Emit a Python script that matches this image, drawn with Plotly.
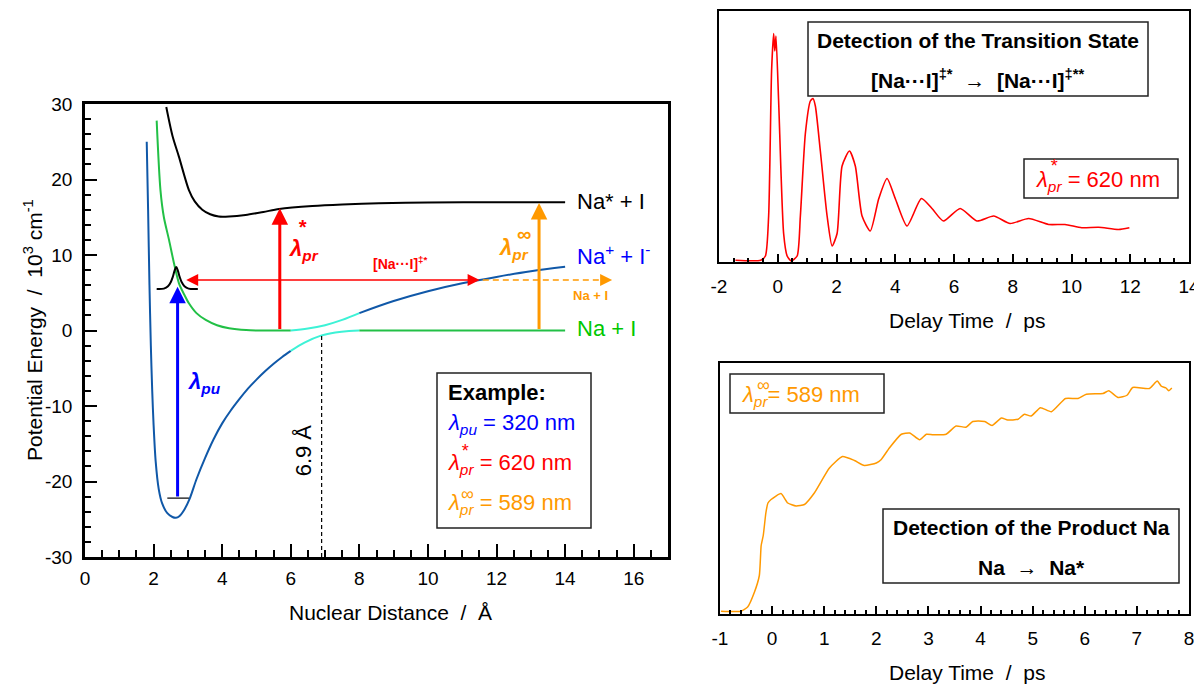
import plotly.graph_objects as go

W, H = 1202, 686
OFF = 8  # page body margin of the browser
FONT = "Liberation Sans, Arial, Helvetica, sans-serif"
NB = "\u00a0"

# ---------------- Left panel: potential energy curves (10^3 cm^-1 vs Angstrom) ----------------
ionic_x = [1.80, 1.84, 1.88, 1.92, 1.96, 2.00, 2.06, 2.15, 2.25, 2.40, 2.55, 2.65, 2.75, 2.90,
           3.05, 3.25, 3.50, 3.75, 4.00, 4.25, 4.50, 4.75, 5.00, 5.25, 5.50, 5.75, 6.00]
ionic_y = [25.0, 16.0, 6.0, -2.0, -8.0, -12.5, -17.3, -21.0, -22.9, -24.2, -24.7, -24.8, -24.6, -23.7,
           -22.3, -19.7, -16.9, -14.4, -12.3, -10.6, -9.1, -7.7, -6.5, -5.4, -4.4, -3.5, -2.7]
cross_low_x = [6.0, 6.4, 6.9, 7.3, 7.7, 8.0]
cross_low_y = [-2.7, -1.6, -0.65, -0.25, -0.05, 0.0]
cov_x = [2.09, 2.20, 2.30, 2.45, 2.60, 2.74, 2.90, 3.03, 3.25, 3.52, 3.85, 4.20, 4.70, 5.20, 6.00]
cov_y = [27.8, 18.6, 15.0, 12.0, 8.8, 6.25, 4.7, 3.6, 2.3, 1.4, 0.7, 0.3, 0.05, 0.0, 0.0]
cross_up_x = [6.0, 6.5, 7.0, 7.5, 8.0]
cross_up_y = [0.0, 0.25, 0.7, 1.4, 2.3]
ionic_out_x = [8.0, 9.0, 10.0, 11.0, 12.0, 13.0, 14.0]
ionic_out_y = [2.3, 3.9, 5.2, 6.25, 7.1, 7.85, 8.45]
cov_out_x = [8.0, 14.0]
cov_out_y = [0.0, 0.0]
exc_x = [2.37, 2.55, 2.74, 3.03, 3.20, 3.42, 3.65, 3.90, 4.20, 4.68, 5.20, 5.66, 6.63, 7.50, 8.57, 10.0, 12.0, 14.0]
exc_y = [29.6, 25.8, 23.0, 18.6, 17.1, 16.0, 15.4, 15.1, 15.1, 15.3, 15.7, 16.1, 16.5, 16.7, 16.85, 16.95, 17.0, 17.0]
wp_x = [2.09, 2.30, 2.42, 2.50, 2.56, 2.61, 2.66, 2.71, 2.76, 2.82, 2.90, 3.02, 3.29]
wp_y = [5.5, 5.55, 5.85, 6.4, 7.1, 7.9, 8.4, 7.9, 7.1, 6.4, 5.85, 5.55, 5.5]
level_x = [2.40, 3.03]
level_y = [-22.2, -22.2]
crossing_R = 6.9
pump_x, pump_y0, pump_y1 = 2.70, -22.2, 5.8
probe_star_x, probe_star_y1 = 5.68, 16.2
probe_inf_x, probe_inf_y1 = 13.24, 16.9
ts_y, ts_x0, ts_x1, prod_x1 = 6.7, 2.95, 11.55, 15.37

left_xticks = [0, 2, 4, 6, 8, 10, 12, 14, 16]
left_yticks = [-30, -20, -10, 0, 10, 20, 30]

# ---------------- Top right: transition state signal (620 nm) ----------------
red_t = [-1.44, -0.58, -0.42, -0.31, -0.21, -0.14, -0.10, -0.06, 0.03, 0.20, 0.32, 0.46, 0.66, 0.77,
         0.94, 1.11, 1.20, 1.28, 1.45, 1.68, 1.85, 2.02, 2.19, 2.44, 2.64, 2.87, 3.15, 3.44, 3.72,
         4.00, 4.40, 4.89, 5.25, 5.64, 6.21, 6.78, 7.35, 7.91, 8.54, 9.22, 9.78, 10.35, 10.92, 11.60, 11.97]
red_s = [0.003, 0.003, 0.02, 0.18, 0.76, 0.91, 0.84, 0.90, 0.64, 0.11, 0.02, 0.0, 0.02, 0.18,
         0.51, 0.64, 0.65, 0.62, 0.44, 0.18, 0.06, 0.11, 0.38, 0.44, 0.38, 0.18, 0.12, 0.25, 0.33,
         0.25, 0.14, 0.25, 0.21, 0.16, 0.21, 0.16, 0.18, 0.15, 0.17, 0.146, 0.146, 0.133, 0.135, 0.126, 0.133]
top_xticks = [-2, 0, 2, 4, 6, 8, 10, 12, 14]

# ---------------- Bottom right: product signal (589 nm) ----------------
org_t = [-0.98, -0.60, -0.47, -0.34, -0.245, -0.21, -0.17, -0.12, -0.08, -0.02, 0.17, 0.30, 0.46, 0.62,
         0.81, 1.10, 1.35, 1.58, 1.77, 2.00, 2.09, 2.25, 2.48, 2.64, 2.83, 2.96, 3.09, 3.34, 3.53,
         3.72, 3.85, 4.08, 4.22, 4.40, 4.52, 4.72, 4.84, 4.97, 5.15, 5.36, 5.63, 5.87, 6.03, 6.35,
         6.46, 6.64, 6.81, 6.92, 7.24, 7.39, 7.47, 7.56, 7.61, 7.67]
org_s = [0.007, 0.007, 0.024, 0.083, 0.15, 0.27, 0.31, 0.40, 0.44, 0.454, 0.478, 0.44, 0.428, 0.434,
         0.48, 0.58, 0.626, 0.61, 0.59, 0.60, 0.613, 0.66, 0.715, 0.72, 0.693, 0.715, 0.713, 0.715, 0.748,
         0.743, 0.766, 0.766, 0.75, 0.78, 0.772, 0.775, 0.795, 0.788, 0.821, 0.805, 0.858, 0.858, 0.875, 0.878,
         0.889, 0.862, 0.871, 0.902, 0.898, 0.928, 0.907, 0.90, 0.889, 0.90]
bot_xticks = [-1, 0, 1, 2, 3, 4, 5, 6, 7, 8]

BLUE_C = "#1058a8"
GREEN_C = "#22c046"
CYAN_C = "#3df2d6"
RED = "#ff0000"
ORANGE = "#ff9900"
BLUE = "#0000ff"


def PX(x):
    return (x - OFF) / W


def PY(y):
    return 1 - (y - OFF) / H


fig = go.Figure()


def line(x, y, color, width, xa="x", ya="y", dash=None, shape="spline", smoothing=1.0):
    fig.add_trace(go.Scatter(x=x, y=y, mode="lines",
                             line=dict(color=color, width=width, dash=dash, shape=shape,
                                       smoothing=smoothing if shape == "spline" else None),
                             xaxis=xa, yaxis=ya, hoverinfo="skip", showlegend=False))


# potential curves
line(ionic_x, ionic_y, BLUE_C, 2, smoothing=0.8)
line(cross_low_x, cross_low_y, CYAN_C, 2)
line(cov_x, cov_y, GREEN_C, 2, smoothing=0.8)
line(cross_up_x, cross_up_y, CYAN_C, 2)
line(ionic_out_x, ionic_out_y, BLUE_C, 2)
line(cov_out_x, cov_out_y, GREEN_C, 2, shape="linear")
line(exc_x, exc_y, "black", 2, smoothing=0.8)
line(wp_x, wp_y, "black", 2)
line(level_x, level_y, "black", 1.2, shape="linear")
line([crossing_R, crossing_R], [-30, -0.6], "black", 1.2, dash="4px,3px", shape="linear")
line([ts_x1 + 0.05, prod_x1 - 0.2], [ts_y, ts_y], ORANGE, 1.5, dash="6px,4px", shape="linear")

# time traces
line(red_t, red_s, RED, 1.6, xa="x2", ya="y2", smoothing=0.6)
line(org_t, org_s, ORANGE, 1.5, xa="x3", ya="y3", smoothing=0.5)

ann = []


def arrow(x0, y0, x1, y1, color, width, size=1.0, side="end"):
    ann.append(dict(x=x1, y=y1, ax=x0, ay=y0, xref="x", yref="y", axref="x", ayref="y",
                    showarrow=True, arrowhead=2, startarrowhead=2, arrowsize=size,
                    startarrowsize=size, arrowwidth=width, arrowcolor=color, text="",
                    arrowside=side, standoff=0, startstandoff=0))


arrow(pump_x, pump_y0, pump_x, pump_y1, BLUE, 3, 1.1)
arrow(probe_star_x, 0, probe_star_x, probe_star_y1, RED, 3, 1.1)
arrow(probe_inf_x, 0, probe_inf_x, probe_inf_y1, ORANGE, 3, 1.1)
arrow(ts_x1, ts_y, ts_x0, ts_y, RED, 1.5, 1.6, side="end+start")
arrow(prod_x1 - 0.3, ts_y, prod_x1, ts_y, ORANGE, 1.5, 1.6)


def text(x, y, s, size, color="black", xref="x", yref="y", xanchor="center", yanchor="middle",
         angle=0):
    ann.append(dict(x=x, y=y, xref=xref, yref=yref, text=s, showarrow=False, xanchor=xanchor,
                    yanchor=yanchor, textangle=angle,
                    font=dict(family=FONT, size=size, color=color)))


def ptext(px, py, s, size, color="black", xanchor="center", yanchor="middle", angle=0):
    text(PX(px), PY(py), s, size, color, "paper", "paper", xanchor, yanchor, angle)


# curve labels
text(14.3, 17.1, "Na* + I", 22, "black", xanchor="left")
text(14.3, 10.0, "Na<sup>+</sup> + I<sup>-</sup>", 22, BLUE, xanchor="left")
text(14.3, 0.2, "Na + I", 22, "#00c800", xanchor="left")
text(9.2, 8.9, "<b>[Na···I]<sup>‡*</sup></b>", 14, RED)
text(14.75, 4.7, "<b>Na + I</b>", 13, ORANGE)
text(6.38, -15.9, "6.9 Å", 22, "black", angle=-90)

# lambda labels on the left panel
text(2.95, -7.0, "<b><i>λ<sub>pu</sub></i></b>", 22, BLUE, xanchor="left")
text(5.88, 10.6, "<b><i>λ<sub>pr</sub></i></b>", 22, RED, xanchor="left")
text(6.35, 13.7, "<b><i>*</i></b>", 20, RED, xanchor="center")
text(12.0, 10.8, "<b><i>λ<sub>pr</sub></i></b>", 22, ORANGE, xanchor="left")
text(12.8, 12.8, "<b>∞</b>", 20, ORANGE, xanchor="center")

# Example box
ptext(446, 393, "<b>Example:</b>", 22, "black", xanchor="left")
ptext(446, 424, "<i>λ<sub>pu</sub></i> = 320 nm", 22, BLUE, xanchor="left")
ptext(446, 464, "<i>λ<sub>pr</sub></i> = 620 nm", 22, RED, xanchor="left")
ptext(465, 451, "<i>*</i>", 18, RED)
ptext(446, 504, "<i>λ<sub>pr</sub></i> = 589 nm", 22, ORANGE, xanchor="left")
ptext(467, 494, "∞", 18, ORANGE)

# top right boxes
ptext(978, 40, "<b>Detection of the Transition State</b>", 21)
ptext(978, 79, "<b>[Na···I]<sup>‡*</sup>" + NB * 2 + "→" + NB * 2 + "[Na···I]<sup>‡**</sup></b>", 21)
ptext(1034, 181, "<i>λ<sub>pr</sub></i> = 620 nm", 22, RED, xanchor="left")
ptext(1054, 166, "<i>*</i>", 18, RED)

# bottom right boxes
ptext(1031, 527, "<b>Detection of the Product Na</b>", 21)
ptext(1031, 567, "<b>Na" + NB * 2 + "→" + NB * 2 + "Na*</b>", 21)
ptext(740, 396, "<i>λ<sub>pr</sub></i>= 589 nm", 22, ORANGE, xanchor="left")
ptext(763, 385, "∞", 18, ORANGE)

# axis titles
ptext(390, 612, "Nuclear Distance" + NB * 2 + "/" + NB * 2 + "Å", 21)
ptext(33, 330, "Potential Energy" + NB * 2 + "/" + NB * 2 + "10<sup>3</sup> cm<sup>-1</sup>", 21, angle=-90)
ptext(967, 320, "Delay Time" + NB * 2 + "/" + NB * 2 + "ps", 21)
ptext(967, 672, "Delay Time" + NB * 2 + "/" + NB * 2 + "ps", 21)

shapes = []


def box(x0, y0, x1, y1, color="#222222", width=1.5):
    shapes.append(dict(type="rect", xref="paper", yref="paper", x0=PX(x0), x1=PX(x1),
                       y0=PY(y1), y1=PY(y0), line=dict(color=color, width=width),
                       fillcolor="rgba(0,0,0,0)"))


box(437, 373, 591, 528)
box(808, 22, 1148, 96)
box(1024, 159, 1178, 198)
box(883, 509, 1179, 583)
box(730, 374, 884, 413)


def axis(domain, rng, ticks, ticklen, minor_dtick, minor_len, lw, anchor, tick0=0, standoff=6):
    d = dict(domain=domain, range=rng, showline=True, linecolor="black", linewidth=lw,
             mirror=True, showgrid=False, zeroline=False, fixedrange=True, automargin=False,
             anchor=anchor, tickfont=dict(family=FONT, size=19, color="black"))
    if ticks is None:
        d.update(ticks="", showticklabels=False)
    else:
        d.update(ticks="inside", tickmode="array", tickvals=ticks,
                 ticktext=[str(v) for v in ticks], ticklen=ticklen,
                 tickwidth=1.5, tickcolor="black", showticklabels=True,
                 ticklabelstandoff=standoff,
                 minor=dict(ticks="inside", tickmode="linear", dtick=minor_dtick, tick0=tick0,
                            ticklen=minor_len, tickwidth=1.5, tickcolor="black", showgrid=False))
    return d


fig.update_layout(
    width=W, height=H, margin=dict(l=0, r=0, t=0, b=0, autoexpand=False),
    paper_bgcolor="white", plot_bgcolor="white", showlegend=False,
    xaxis=axis([PX(85), PX(668)], [0, 17], left_xticks, 13, 0.5, 7, 2.5, "y", standoff=2),
    yaxis=axis([PY(557), PY(104)], [-30, 30], left_yticks, 12, 2, 6, 2.5, "x", tick0=-30),
    xaxis2=axis([PX(719), PX(1189)], [-2, 14], top_xticks, 8, 0.5, 4, 2, "y2", tick0=-2),
    yaxis2=axis([PY(262), PY(11)], [-0.004, 1.0], None, 0, 0, 0, 2, "x2"),
    xaxis3=axis([PX(720), PX(1189)], [-1, 8], bot_xticks, 8, 0.2, 4, 2, "y3", tick0=-1),
    yaxis3=axis([PY(614), PY(363)], [-0.004, 1.0], None, 0, 0, 0, 2, "x3"),
    annotations=ann, shapes=shapes,
)

fig.write_html("out.html")
